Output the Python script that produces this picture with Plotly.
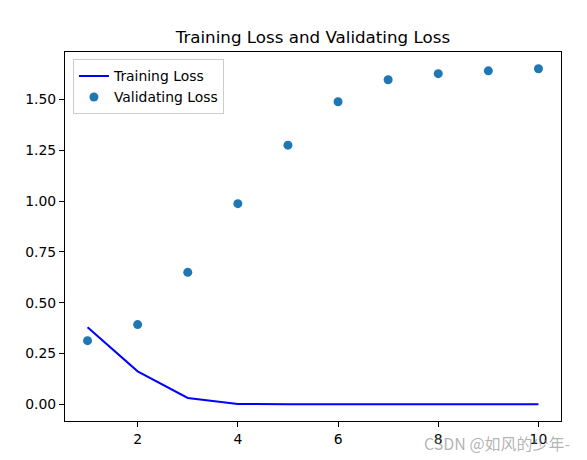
import plotly.graph_objects as go

epochs = [1, 2, 3, 4, 5, 6, 7, 8, 9, 10]
training_loss = [0.379, 0.162, 0.031, 0.0015, 0.0004, 0.0002, 0.0001, 0.0001, 0.00005, 0.00003]
validating_loss = [0.313, 0.392, 0.649, 0.987, 1.275, 1.489, 1.597, 1.627, 1.641, 1.651]
y_ticks = [0.0, 0.25, 0.5, 0.75, 1.0, 1.25, 1.5]
x_ticks = [2, 4, 6, 8, 10]

font = "DejaVu Sans"

fig = go.Figure()
fig.add_trace(go.Scatter(x=epochs, y=training_loss, mode="lines", name="Training Loss",
                         line=dict(color="blue", width=2)))
fig.add_trace(go.Scatter(x=epochs, y=validating_loss, mode="markers", name="Validating Loss",
                         marker=dict(color="#1f77b4", size=9)))

fig.update_layout(
    width=587, height=460,
    margin=dict(l=65, r=26, t=52, b=39),
    paper_bgcolor="white", plot_bgcolor="white",
    font=dict(family=font, size=13.9, color="black"),
    title=dict(text="Training Loss and Validating Loss", x=0.533, xanchor="center",
               y=1 - 37/460, yanchor="middle", font=dict(size=16.7, family=font)),
    showlegend=True,
    legend=dict(x=0.016, y=0.98, xanchor="left", yanchor="top",
                bordercolor="#cccccc", borderwidth=1, bgcolor="rgba(255,255,255,0.8)",
                font=dict(size=13.9, family=font), tracegroupgap=0),
)
fig.update_xaxes(range=[0.55, 10.45], tickvals=x_ticks, showgrid=False, zeroline=False,
                 showline=True, linecolor="black", linewidth=1, mirror=True,
                 ticks="outside", ticklen=5, tickcolor="black")
fig.update_yaxes(range=[-0.0826, 1.7336], tickvals=y_ticks, tickformat=".2f", showgrid=False,
                 zeroline=False, showline=True, linecolor="black", linewidth=1, mirror=True,
                 ticks="outside", ticklen=5, tickcolor="black")

fig.add_annotation(text="CSDN @如风的少年-", xref="paper", yref="paper",
                   x=(572 - 65) / 496, y=-(443 - 421) / 369, xanchor="right", yanchor="middle",
                   showarrow=False, font=dict(size=16, color="rgba(128,128,128,0.6)",
                                              family="Noto Sans CJK SC"))

fig.write_html("out.html", config={"displayModeBar": False},
               post_script="document.body.style.margin='0';document.body.style.overflow='hidden';")
